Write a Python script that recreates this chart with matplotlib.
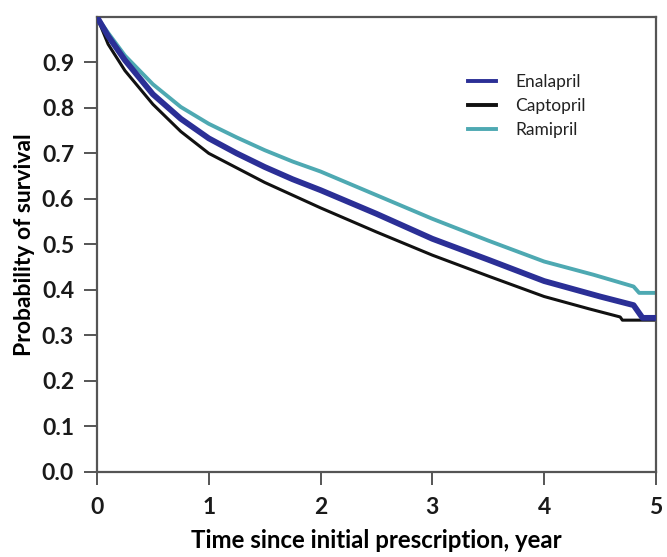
import numpy as np
import matplotlib.pyplot as plt

# survival curves
t_enal = [0, 0.1, 0.25, 0.5, 0.75, 1.0, 1.25, 1.5, 1.75, 2.0, 2.5, 3.0, 3.5, 4.0, 4.5, 4.8, 4.88, 5.0]
s_enal = [1.0, 0.958, 0.905, 0.830, 0.776, 0.733, 0.700, 0.670, 0.643, 0.619, 0.567, 0.512, 0.466, 0.419, 0.385, 0.366, 0.338, 0.338]

t_capt = [0, 0.1, 0.25, 0.5, 0.75, 1.0, 1.25, 1.5, 1.75, 2.0, 2.5, 3.0, 3.5, 4.0, 4.4, 4.68, 4.7, 5.0]
s_capt = [1.0, 0.940, 0.882, 0.808, 0.748, 0.700, 0.668, 0.636, 0.608, 0.580, 0.527, 0.476, 0.430, 0.385, 0.358, 0.340, 0.333, 0.333]

t_rami = [0, 0.1, 0.25, 0.5, 0.75, 1.0, 1.25, 1.5, 1.75, 2.0, 2.5, 3.0, 3.5, 4.0, 4.44, 4.8, 4.85, 5.0]
s_rami = [1.0, 0.965, 0.915, 0.852, 0.802, 0.765, 0.735, 0.707, 0.682, 0.660, 0.608, 0.556, 0.508, 0.462, 0.433, 0.407, 0.393, 0.393]

x_ticks = [0, 1, 2, 3, 4, 5]
y_ticks = [0.0, 0.1, 0.2, 0.3, 0.4, 0.5, 0.6, 0.7, 0.8, 0.9]

plt.rcParams['font.family'] = ['Lato', 'DejaVu Sans']

fig = plt.figure(figsize=(6.67, 5.57), dpi=100)
ax = fig.add_axes([0.1454, 0.1535, 0.838, 0.816])

ax.plot(t_enal, s_enal, color='#2b2f96', lw=4.2, label='Enalapril', zorder=3)
ax.plot(t_capt, s_capt, color='#111111', lw=2.2, label='Captopril', zorder=2)
ax.plot(t_rami, s_rami, color='#4ea9b2', lw=2.8, label='Ramipril', zorder=2)

ax.set_xlim(0, 5)
ax.set_ylim(0, 1.0)
ax.set_xticks(x_ticks)
ax.set_yticks(y_ticks)
ax.set_yticklabels([f'{v:.1f}' for v in y_ticks])

for s in ax.spines.values():
    s.set_color('#555555')
    s.set_linewidth(1.6)
ax.tick_params(direction='out', length=9.5, width=1.4, color='#555555',
               labelsize=16.5, labelcolor='#1a1a1a')
ax.tick_params(axis='x', pad=9)
ax.tick_params(axis='y', pad=7)
for lab in ax.get_xticklabels() + ax.get_yticklabels():
    lab.set_fontweight('bold')

ax.set_xlabel('Time since initial prescription, year', fontsize=17.3,
              fontweight='bold', labelpad=8)
ax.set_ylabel('Probability of survival', fontsize=16.5, fontweight='bold',
              labelpad=5)

leg = ax.legend(loc='upper left', bbox_to_anchor=(0.635, 0.908), frameon=False,
                fontsize=12.5, handlelength=1.65, labelspacing=0.45,
                handletextpad=1.1)
for ln in leg.get_lines():
    ln.set_linewidth(2.8)
for txt in leg.get_texts():
    txt.set_color('#222222')

fig.savefig('out.png', dpi=100)
